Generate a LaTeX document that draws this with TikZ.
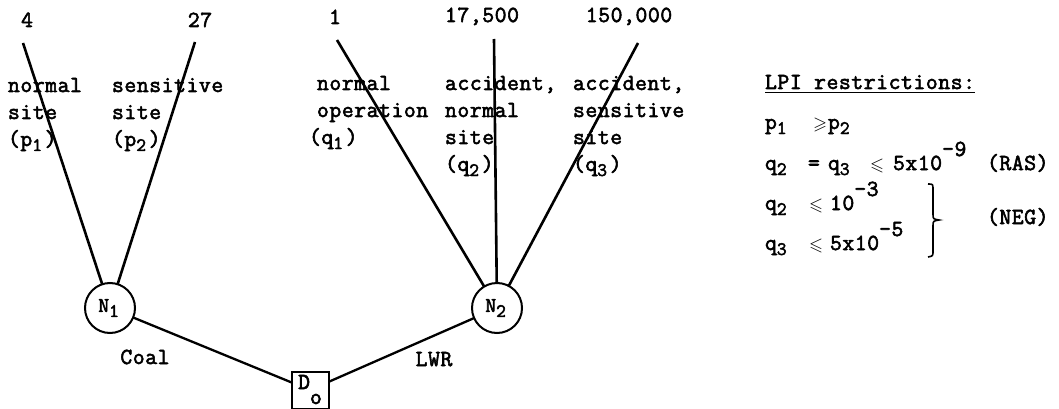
\documentclass[tikz,border=0pt]{standalone}
\usepackage{amssymb}
\usepackage{amsmath}
\usepackage{fontspec}
\setmainfont{Latin Modern Mono}[LetterSpace=2.5,FakeBold=2.5]
\newcommand\sbs[1]{\makebox[12.5pt][l]{\raisebox{-5pt}{\fontsize{19}{19}\selectfont #1}}}
\newcommand\sps[1]{\raisebox{14pt}{#1}}
\newcommand\lsq{{\fontsize{18}{18}\selectfont$\boldsymbol{\leqslant}$}}
\newcommand\gsq{{\fontsize{18}{18}\selectfont$\boldsymbol{\geqslant}$}}
\newcommand\lbl[1]{\begin{tabular}[t]{@{}l@{}}#1\end{tabular}}
\begin{document}
\begin{tikzpicture}[x=1pt,y=-1pt,
  every node/.style={font=\fontsize{23}{27}\selectfont, inner sep=0pt, outer sep=0pt},
  txt/.style={anchor=base west},
  ctxt/.style={anchor=base},
  chance/.style={draw, circle, line width=2pt, minimum size=50pt,
     font=\fontsize{21}{21}\selectfont},
  decision/.style={draw, rectangle, line width=2pt, minimum size=37pt},
  branch/.style={line width=2.6pt},
  link/.style={line width=2.3pt}]
\useasboundingbox (0,0) rectangle (1059,409);

% nodes
\node[chance] (N1) at (110,308) {N\sbs{1}};
\node[chance] (N2) at (497,308) {N\sbs{2}};
\node[decision] (D0) at (310,390) {};
\node[anchor=base] (D0t) at (310,393) {\raisebox{4pt}{D}\raisebox{-11pt}{o}};

% branch ends
\coordinate (e1) at (23,43);
\coordinate (e2) at (195,42);
\coordinate (e3) at (337,40);
\coordinate (e4) at (494,39);
\coordinate (e5) at (638,43);

\draw[branch] (e1) -- (N1);
\draw[branch] (e2) -- (N1);
\draw[branch] (e3) -- (N2);
\draw[branch] (e4) -- (N2);
\draw[branch] (e5) -- (N2);
\draw[link] (N1) -- (D0);
\draw[link] (N2) -- (D0);

% payoffs
\node[ctxt] (v1) at (27,27) {4};
\node[ctxt] (v2) at (200,27) {27};
\node[ctxt] (v3) at (335,24) {1};
\node[ctxt] (v4) at (482,22) {17,500};
\node[ctxt] (v5) at (629,22) {150,000};

% branch labels
\node[txt] (l1) at (8,92) {\lbl{normal\\site\\(p\sbs{1})}};
\node[txt] (l2) at (112,92) {\lbl{sensitive\\site\\(p\sbs{2})}};
\node[txt] (l3) at (317,90) {\lbl{normal\\operation\\\hspace*{-8pt}(q\sbs{1})}};
\node[txt] (l4) at (445,90) {\lbl{accident,\\normal\\site\\(q\sbs{2})}};
\node[txt] (l5) at (573,90) {\lbl{accident,\\sensitive\\site\\(q\sbs{3})}};

\node[ctxt] (coal) at (145,364) {Coal};
\node[ctxt] (lwr) at (434,366) {LWR};

% restrictions
\node[txt] (r0) at (765,89) {\underline{LPI restrictions:}};
\node[txt] (r1) at (765,129) {\makebox[48pt][l]{p\sbs{1}}\makebox[15pt][l]{\gsq}p\sbs{2}};
\node[txt] (r2) at (765,170) {\makebox[43pt][l]{q\sbs{2}}\makebox[20pt][l]{=}\makebox[42pt][l]{q\sbs{3}}\makebox[23pt][l]{\lsq}5x10\sps{–9}};
\node[txt] (r3) at (765,210) {\makebox[44pt][l]{q\sbs{2}}\makebox[21pt][l]{\lsq}10\sps{–3}};
\node[txt] (r4) at (765,250) {\makebox[44pt][l]{q\sbs{3}}\makebox[21pt][l]{\lsq}5x10\sps{–5}};
\node[txt] (ras) at (987,170) {(RAS)};
\node[txt] (neg) at (987,224) {(NEG)};

\draw[line width=1.6pt] (928,184) .. controls (933,184) .. (933,190) -- (933,214)
  .. controls (933,219) .. (939,220) .. controls (933,221) .. (933,226) -- (933,251)
  .. controls (933,256) .. (928,257);
\end{tikzpicture}
\end{document}
